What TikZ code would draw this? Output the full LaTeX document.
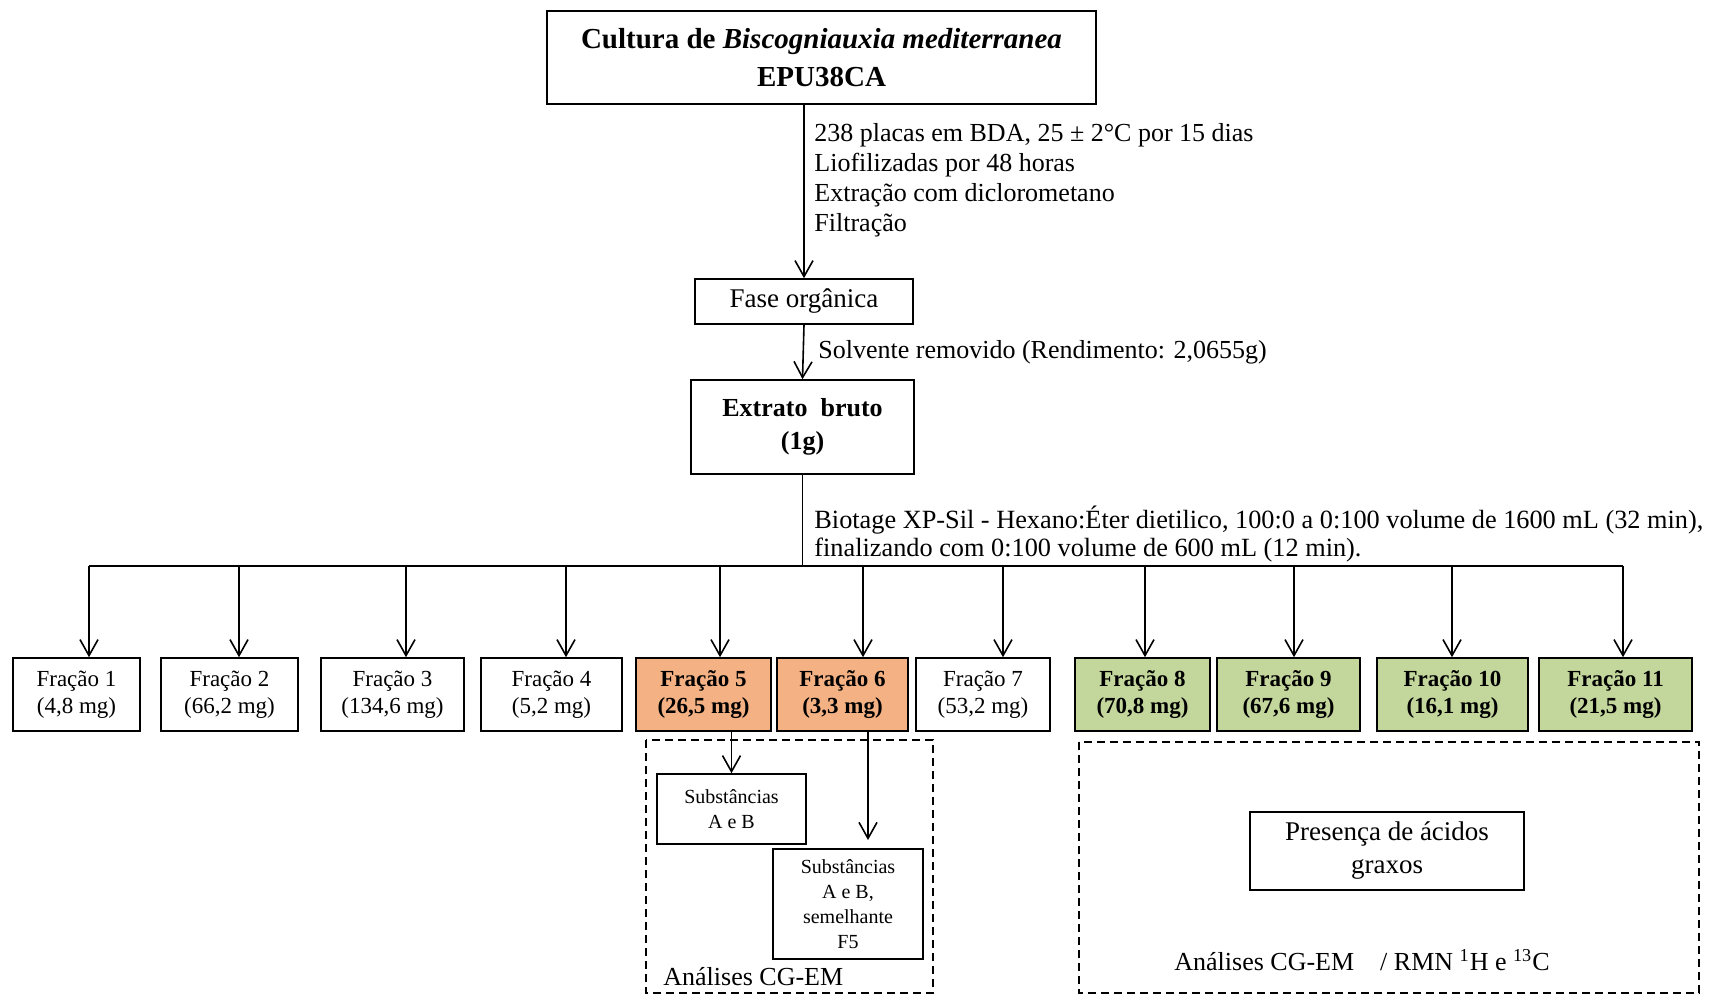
\documentclass[tikz,border=0pt]{standalone}
\usepackage{fontspec}
\setmainfont{Liberation Serif}
\usetikzlibrary{arrows.meta}
\definecolor{fracorange}{HTML}{F4B183}
\definecolor{fracgreen}{HTML}{C3D69B}
\tikzset{
  box/.style={draw, line width=0.8pt, inner sep=0pt, align=center},
  fplain/.style={box, font=\fontsize{11.5}{13.5}\selectfont},
  forange/.style={box, fill=fracorange, font=\fontsize{11.5}{13.5}\selectfont\bfseries},
  fgreen/.style={box, fill=fracgreen, font=\fontsize{11.5}{13.5}\selectfont\bfseries},
  subbox/.style={box, font=\fontsize{10}{12.5}\selectfont},
  arr/.style={line width=0.8pt, -{Straight Barb[length=8pt,width=9pt]}},
  note/.style={anchor=west, align=left, inner sep=0pt, font=\fontsize{13}{15}\selectfont},
  dashbox/.style={draw, line width=0.8pt, dash pattern=on 4pt off 2.5pt}
}
\begin{document}
\begin{tikzpicture}[x=0.5pt,y=-0.5pt]
  \useasboundingbox (0,0) rectangle (1713,996);
  % main column
  \node[box, minimum width=274.5pt, minimum height=46.5pt,
        font=\fontsize{14.5}{19}\selectfont\bfseries] (cult) at (821.5,57.5)
        {Cultura de \textit{Biscogniauxia mediterranea}\\EPU38CA};
  \node[box, minimum width=109pt, minimum height=22.5pt,
        font=\fontsize{13.5}{16}\selectfont] (fase) at (804,301.5) {Fase orgânica};
  \node[box, minimum width=111.5pt, minimum height=47pt,
        font=\fontsize{13}{16.5}\selectfont\bfseries] (extr) at (802.5,427)
        {Extrato\ \ bruto\\(1g)};
  \node[note] (cond) at (814,180.5) {238 placas em BDA, 25 ± 2°C por 15 dias\\
    Liofilizadas por 48 horas\\Extração com diclorometano\\Filtração};
  \node[note] (solv) at (818,352) {Solvente removido (Rendimento: 2,0655g)};
  \node[note, font=\fontsize{13.15}{14}\selectfont] (biot) at (814,534)
    {Biotage XP-Sil - Hexano:Éter dietilico, 100:0 a 0:100 volume de 1600 mL (32 min),\\
     finalizando com 0:100 volume de 600 mL (12 min).};
  \draw[arr] (fase.north |- cult.south) -- (fase.north);
  \draw[arr] (fase.south) -- (extr.north);
  % fractions
  \coordinate (busL) at (89,566);
  \coordinate (busR) at (1623,566);
  \draw[line width=0.8pt] (extr.south) -- (extr.south |- busL);
  \draw[line width=0.8pt] (busL) -- (busR);
  \foreach \n/\l/\r/\d/\st/\m in {1/13/140/89/fplain/{4,8}, 2/161/298/239/fplain/{66,2},
      3/321/464/406/fplain/{134,6}, 4/481/622/566/fplain/{5,2}, 5/636/771/720/forange/{26,5},
      6/777/908/863/forange/{3,3}, 7/916/1050/1003/fplain/{53,2}, 8/1075/1210/1145/fgreen/{70,8},
      9/1217/1360/1294/fgreen/{67,6}, 10/1377/1528/1452/fgreen/{16,1}, 11/1539/1692/1623/fgreen/{21,5}} {
    \node[\st, minimum width={(\r-\l)*0.5pt}, minimum height=36.5pt] (f\n)
      at ({(\l+\r)/2},694.5) {Fração \n\\(\m{} mg)};
    \coordinate (d\n) at (\d,566);
    \draw[arr] (d\n) -- (d\n |- f\n.north);
  }
  % analyses F5 and F6
  \draw[dashbox] (646,740) rectangle (933,993);
  \node[subbox, minimum width=74.5pt, minimum height=35pt] (subA) at (731.5,809)
    {Substâncias\\A e B};
  \node[subbox, minimum width=75pt, minimum height=55pt] (subB) at (848,904)
    {Substâncias\\A e B,\\semelhante\\F5};
  \coordinate (f6out) at (868,840);
  \draw[arr] (f5.south -| subA.north) -- (subA.north);
  \draw[arr] (f6.south -| f6out) -- (f6out);
  \node[note] (anl) at (663,977) {Análises CG-EM};
  % analyses F8 to F11
  \draw[dashbox] (1079,742) rectangle (1699,993);
  \node[box, minimum width=137pt, minimum height=39pt,
        font=\fontsize{13.5}{16.5}\selectfont] (acid) at (1387,851)
    {Presença de ácidos\\graxos};
  \node[note, anchor=center] (anr) at (1362,960)
    {Análises CG-EM\quad / RMN \textsuperscript{1}H e \textsuperscript{13}C};
\end{tikzpicture}
\end{document}
